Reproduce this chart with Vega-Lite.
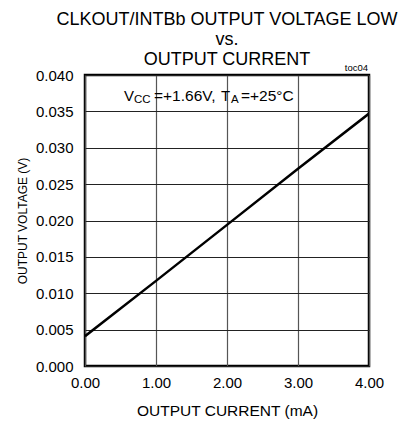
{
  "$schema": "https://vega.github.io/schema/vega-lite/v6.json",
  "width": 284,
  "height": 291,
  "autosize": {"type": "none"},
  "padding": {"left": 85, "top": 75, "right": 36, "bottom": 59},
  "background": "white",
  "config": {
    "font": "Liberation Sans",
    "view": {"stroke": "black", "strokeWidth": 2.5},
    "axis": {"labelFont": "Liberation Sans", "titleFont": "Liberation Sans", "labelColor": "black", "titleColor": "black", "titleFontWeight": "normal", "labelFontWeight": "normal"}
  },
  "title": {
    "text": ["CLKOUT/INTBb OUTPUT VOLTAGE LOW", "vs.", "OUTPUT CURRENT"],
    "fontSize": 18,
    "fontWeight": "normal",
    "font": "Liberation Sans",
    "lineHeight": 20,
    "anchor": "middle",
    "offset": -6,
    "color": "black"
  },
  "data": {
    "values": [
      {"current": 0.0, "voltage": 0.0041},
      {"current": 1.0, "voltage": 0.0117},
      {"current": 2.0, "voltage": 0.0194},
      {"current": 3.0, "voltage": 0.0271},
      {"current": 4.0, "voltage": 0.0347}
    ]
  },
  "resolve": {"axis": {"x": "independent", "y": "independent"}},
  "layer": [
    {
      "mark": {"type": "line", "color": "black", "strokeWidth": 2.5, "clip": true},
      "encoding": {
        "x": {
          "field": "current", "type": "quantitative",
          "scale": {"domain": [0, 4], "nice": false, "zero": false},
          "axis": {
            "values": [0, 1, 2, 3, 4], "format": ".2f", "title": "OUTPUT CURRENT (mA)",
            "domain": false, "ticks": false, "labelFontSize": 15, "labelPadding": 9,
            "titleFontSize": 15.5, "titlePadding": 13,
            "grid": true, "gridColor": "#555", "gridWidth": 1.2,
            "labelFlush": false, "labelOverlap": false
          }
        },
        "y": {
          "field": "voltage", "type": "quantitative",
          "scale": {"domain": [0, 0.04], "nice": false, "zero": false},
          "axis": {
            "values": [0, 0.005, 0.01, 0.015, 0.02, 0.025, 0.03, 0.035, 0.04], "format": ".3f",
            "title": "OUTPUT VOLTAGE (V)",
            "domain": false, "ticks": false, "labelFontSize": 15, "labelPadding": 12,
            "titleFontSize": 12, "titlePadding": 6,
            "grid": true, "gridColor": "#222", "gridWidth": 1,
            "labelFlush": false, "labelOverlap": false
          }
        }
      }
    },
    {
      "data": {"values": [{"t": "V"}]},
      "mark": {"type": "text", "align": "left", "baseline": "alphabetic", "fontSize": 15, "dx": 39, "dy": 25.7, "color": "black"},
      "encoding": {"x": {"datum": 0, "axis": null}, "y": {"datum": 0.04, "axis": null}, "text": {"field": "t"}}
    },
    {
      "data": {"values": [{"t": "CC"}]},
      "mark": {"type": "text", "align": "left", "baseline": "alphabetic", "fontSize": 11.5, "dx": 49, "dy": 27.5, "color": "black"},
      "encoding": {"x": {"datum": 0, "axis": null}, "y": {"datum": 0.04, "axis": null}, "text": {"field": "t"}}
    },
    {
      "data": {"values": [{"t": "=+1.66V,"}]},
      "mark": {"type": "text", "align": "left", "baseline": "alphabetic", "fontSize": 15.5, "dx": 69, "dy": 25.7, "color": "black"},
      "encoding": {"x": {"datum": 0, "axis": null}, "y": {"datum": 0.04, "axis": null}, "text": {"field": "t"}}
    },
    {
      "data": {"values": [{"t": "T"}]},
      "mark": {"type": "text", "align": "left", "baseline": "alphabetic", "fontSize": 15, "dx": 136, "dy": 25.7, "color": "black"},
      "encoding": {"x": {"datum": 0, "axis": null}, "y": {"datum": 0.04, "axis": null}, "text": {"field": "t"}}
    },
    {
      "data": {"values": [{"t": "A"}]},
      "mark": {"type": "text", "align": "left", "baseline": "alphabetic", "fontSize": 11.5, "dx": 146, "dy": 27.5, "color": "black"},
      "encoding": {"x": {"datum": 0, "axis": null}, "y": {"datum": 0.04, "axis": null}, "text": {"field": "t"}}
    },
    {
      "data": {"values": [{"t": "=+25°C"}]},
      "mark": {"type": "text", "align": "left", "baseline": "alphabetic", "fontSize": 15.5, "dx": 156, "dy": 25.7, "color": "black"},
      "encoding": {"x": {"datum": 0, "axis": null}, "y": {"datum": 0.04, "axis": null}, "text": {"field": "t"}}
    },
    {
      "data": {"values": [{"t": "toc04"}]},
      "mark": {"type": "text", "align": "right", "baseline": "alphabetic", "fontSize": 9.5, "dx": -1, "dy": -4, "color": "black"},
      "encoding": {"x": {"datum": 4, "axis": null}, "y": {"datum": 0.04, "axis": null}, "text": {"field": "t"}}
    }
  ]
}
